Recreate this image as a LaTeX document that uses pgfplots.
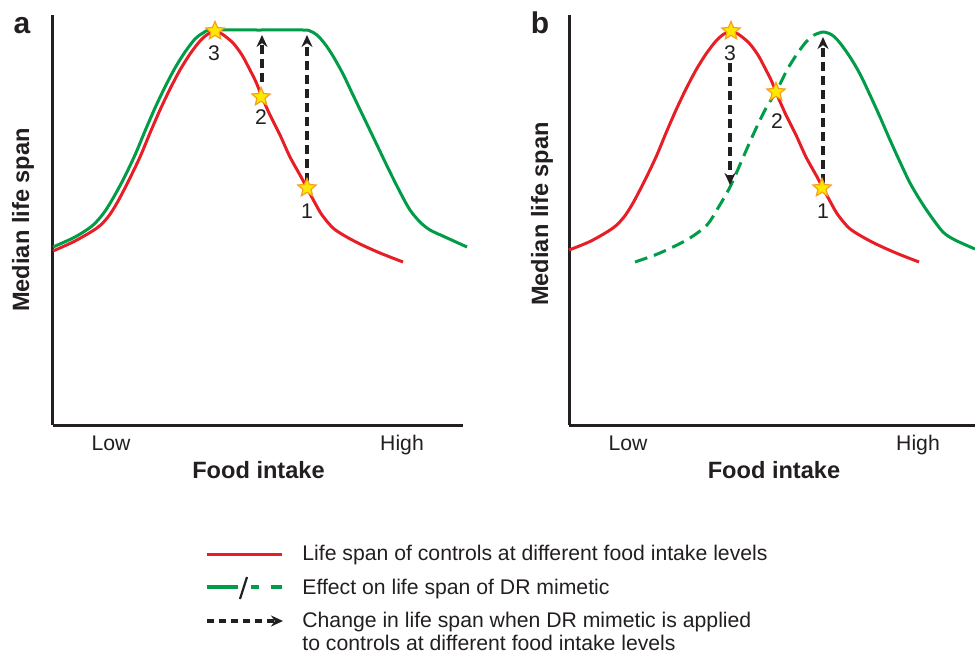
\documentclass[border=0pt]{standalone}
\usepackage{pgfplots}
\pgfplotsset{compat=1.18}
\usepackage{fontspec}
\setmainfont{Liberation Sans}
\usetikzlibrary{arrows.meta}
\definecolor{cred}{RGB}{232,30,38}
\definecolor{cgreen}{RGB}{0,156,72}
\definecolor{starfill}{RGB}{255,232,0}
\definecolor{starborder}{RGB}{245,160,30}
\definecolor{txt}{RGB}{35,31,32}
\pgfdeclareplotmark{fstar}{%
 \pgfpathmoveto{\pgfpointpolar{90}{\pgfplotmarksize}}%
 \pgfpathlineto{\pgfpointpolar{126}{0.45\pgfplotmarksize}}%
 \pgfpathlineto{\pgfpointpolar{162}{\pgfplotmarksize}}%
 \pgfpathlineto{\pgfpointpolar{198}{0.45\pgfplotmarksize}}%
 \pgfpathlineto{\pgfpointpolar{234}{\pgfplotmarksize}}%
 \pgfpathlineto{\pgfpointpolar{270}{0.45\pgfplotmarksize}}%
 \pgfpathlineto{\pgfpointpolar{306}{\pgfplotmarksize}}%
 \pgfpathlineto{\pgfpointpolar{342}{0.45\pgfplotmarksize}}%
 \pgfpathlineto{\pgfpointpolar{18}{\pgfplotmarksize}}%
 \pgfpathlineto{\pgfpointpolar{54}{0.45\pgfplotmarksize}}%
 \pgfpathclose
 \pgfusepathqfillstroke}
\pgfplotsset{
  panel/.style={scale only axis, height=205pt, ymin=0, ymax=410,
    axis lines=left, axis line style={-, line width=1.5pt, draw=txt},
    xtick=\empty, ytick=\empty, clip=false},
  redc/.style={cred, line width=1.5pt, smooth, tension=0.5, no markers},
  greenc/.style={cgreen, line width=1.5pt, smooth, tension=0.5, no markers},
  arr/.style={txt, line width=1.7pt, dash pattern=on 4.5pt off 2.5pt, -{Stealth[length=6pt,width=5.5pt]}, no markers},
  stars/.style={only marks, mark=fstar, mark size=4.8pt, mark options={fill=starfill, draw=starborder, line width=0.6pt, solid}},
}
\newcommand{\lab}{\fontsize{10.6}{12.7}\selectfont}
\newcommand{\blab}{\fontsize{11.8}{14}\selectfont\bfseries}
\begin{document}
\begin{tikzpicture}
% ---------- panel a ----------
\begin{axis}[panel, at={(26.5pt,-212.5pt)}, anchor=south west, width=205pt, xmin=53, xmax=463]
\addplot[greenc] coordinates {(53,178) (75,188) (92,199) (103,211) (112,225) (123,245) (135,270) (145,294) (155,317) (165,338) (175,357) (185,373) (195,386) (203,392) (212,395) (258,395) (303,395) (310,394) (317,390) (325,381) (333,369) (343,351) (353,330) (365,305) (377,280) (388,257) (400,233) (410,215) (420,203) (430,195) (445,188) (467,178)};
\addplot[redc] coordinates {(53,174) (75,184) (97,197) (108,208) (117,222) (128,243) (140,268) (150,292) (160,315) (170,336) (180,355) (190,371) (200,384) (208,391) (215,393) (222,391) (233,382) (242,370) (250,355) (256,343) (262,328) (270,310) (280,290) (290,268) (300,250) (307,237) (315,222) (322,210) (333,197) (345,189) (360,181) (380,172) (403,163)};
\addplot[arr] coordinates {(307,243) (307,390)};
\addplot[arr] coordinates {(262,343) (262,390)};
\addplot[stars] coordinates {(215,394) (261,328) (307,237)};
\node[font=\lab, text=txt, anchor=base] at (axis cs:214,365) {3};
\node[font=\lab, text=txt, anchor=base] at (axis cs:261,301) {2};
\node[font=\lab, text=txt, anchor=base] at (axis cs:307,207) {1};
\node[font=\lab, text=txt, anchor=base] at (axis cs:111,-25) {Low};
\node[font=\lab, text=txt, anchor=base] at (axis cs:402,-25) {High};
\node[font=\blab, text=txt, anchor=base] at (axis cs:258.5,-53) {Food intake};
\node[font=\blab, text=txt, anchor=base, rotate=90] at (axis cs:29,205) {Median life span};
\node[font=\fontsize{15}{18}\selectfont\bfseries, text=txt, anchor=base] at (axis cs:22,392) {a};
\end{axis}
% ---------- panel b ----------
\begin{axis}[panel, at={(284.5pt,-212.5pt)}, anchor=south west, width=203pt, xmin=569, xmax=975]
\addplot[redc] coordinates {(569,175) (591,184) (613,197) (624,208) (633,222) (644,243) (656,268) (666,292) (676,315) (686,336) (696,355) (706,371) (716,384) (724,391) (731,393) (738,391) (749,382) (758,370) (766,355) (772,343) (778,328) (786,310) (796,290) (806,268) (816,250) (823,237) (831,222) (838,210) (849,197) (861,189) (876,181) (896,172) (919,163)};
\addplot[cgreen, line width=1.5pt, smooth, tension=0.5, no markers, dash pattern=on 6.5pt off 3.5pt] coordinates {(635,163) (655,170) (673,178) (690,187) (707,200) (718,217) (730,238) (742,265) (753,290) (765,315) (777,335) (787,355) (797,371) (806,383) (814,390)};
\addplot[greenc] coordinates {(814,390) (823,393) (832,390) (840,382) (850,368) (860,351) (870,330) (880,308) (890,285) (900,263) (910,242) (920,225) (930,210) (943,193) (955,185) (975,176)};
\addplot[arr] coordinates {(730,362) (730,240)};
\addplot[arr] coordinates {(823,242) (823,388)};
\addplot[stars] coordinates {(731,394) (776,333) (822,237)};
\node[font=\lab, text=txt, anchor=base] at (axis cs:730,365) {3};
\node[font=\lab, text=txt, anchor=base] at (axis cs:777,297) {2};
\node[font=\lab, text=txt, anchor=base] at (axis cs:823,207) {1};
\node[font=\lab, text=txt, anchor=base] at (axis cs:628,-25) {Low};
\node[font=\lab, text=txt, anchor=base] at (axis cs:918,-25) {High};
\node[font=\blab, text=txt, anchor=base] at (axis cs:774,-53) {Food intake};
\node[font=\blab, text=txt, anchor=base, rotate=90] at (axis cs:548,211) {Median life span};
\node[font=\fontsize{15}{18}\selectfont\bfseries, text=txt, anchor=base] at (axis cs:540,392) {b};
\end{axis}
% ---------- legend ----------
\begin{scope}[x=0.5pt, y=-0.5pt]
\draw[cred, line width=1.5pt] (207,554) -- (282,554);
\draw[cgreen, line width=1.6pt] (207,587) -- (238,587);
\draw[txt, line width=1.1pt] (240,599) -- (247,577);
\draw[cgreen, line width=1.6pt] (251,587) -- (259,587);
\draw[cgreen, line width=1.6pt] (271,587) -- (282,587);
\draw[txt, line width=1.6pt, dash pattern=on 3.5pt off 2.5pt, -{Stealth[length=6pt,width=5.5pt]}] (207,621) -- (283,621);
\node[font=\lab, text=txt, anchor=base west, inner sep=0pt] at (302,560) {Life span of controls at different food intake levels};
\node[font=\lab, text=txt, anchor=base west, inner sep=0pt] at (302,594) {Effect on life span of DR mimetic};
\node[font=\lab, text=txt, anchor=base west, inner sep=0pt] at (302,627) {Change in life span when DR mimetic is applied};
\node[font=\lab, text=txt, anchor=base west, inner sep=0pt] at (302,650) {to controls at different food intake levels};
\end{scope}
\pgfresetboundingbox
\path (0pt,0pt) rectangle (487.5pt,-326.5pt);
\end{tikzpicture}
\end{document}
